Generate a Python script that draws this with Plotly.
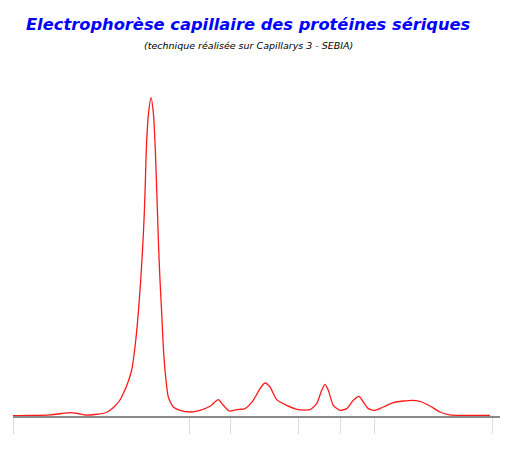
import plotly.graph_objects as go

# mobility (arbitrary units) and signal intensity
mobility = [13, 30, 50, 62, 70, 78, 86, 95, 105, 110, 115, 120, 123, 127, 131.7, 135, 138.3,
            140.7, 142.7, 144.3, 145.4, 146.4, 148.5, 151, 153.4, 155.2, 156.4, 157.5, 158.6, 160, 161.7,
            163.3, 165.3, 168.3, 173.3, 180, 190, 200, 210, 218.3, 223.3, 229.3, 236.7, 245,
            253.3, 260, 265, 270, 276.7, 286.7, 298.3, 310, 316.7, 321.7, 325, 328.3, 333.3,
            340, 346.7, 353.3, 359, 363.3, 368.3, 375, 383.3, 393.3, 403.3, 413.3, 421.7, 430,
            440, 448.3, 456.7, 470, 490]
intensity = [0.3, 0.5, 1.2, 2.5, 3.4, 2.5, 1.0, 1.5, 3.0, 5.7, 10, 16, 22, 31, 46, 69, 103,
             136, 169, 202.7, 235.7, 269, 302.4, 318.4, 302.7, 269, 235.7, 202.7, 169, 135.7, 102.7,
             69, 42.7, 19, 9, 5.7, 4, 5.7, 9.7, 16.4, 10.7, 5, 6.4, 7.4,
             15.7, 27.4, 33, 29, 16.4, 10.7, 6.4, 6.4, 12.4, 25.7, 31.7, 25.7, 10.7,
             5.7, 7.4, 15.7, 19.7, 14, 7.4, 5.7, 9, 13.4, 15, 15.7, 14, 10,
             4, 1.4, 0.7, 0.7, 0.7]
fraction_limits = [13, 189.5, 230, 298.3, 340.3, 374, 492.5]

title_text = "Electrophorèse capillaire des protéines sériques"
subtitle_text = "(technique réalisée sur Capillarys 3 - SEBIA)"

W, H = 505, 442
L, R, T, B = 5, 13, 72, 34
pw, ph = W - L - R, H - T - B


def px(x):
    return (x - L) / pw


def py(y):
    return (H - B - y) / ph


fig = go.Figure()
fig.add_trace(go.Scatter(x=mobility, y=intensity, mode="lines",
                         line=dict(color="#ff1a1a", width=1.3, shape="spline", smoothing=0.6),
                         hoverinfo="skip", showlegend=False))

fig.update_layout(
    width=W, height=H,
    margin=dict(l=L, r=R, t=T, b=B),
    paper_bgcolor="white", plot_bgcolor="white",
    xaxis=dict(range=[13, 500], showgrid=False, zeroline=False, showline=True,
               linecolor="#8a8a8a", linewidth=1.5, ticks="outside", ticklen=16,
               tickcolor="#dcdcdc", tickwidth=1, tickvals=fraction_limits,
               showticklabels=False, fixedrange=True),
    yaxis=dict(range=[0, 336], visible=False, fixedrange=True),
)
fig.add_annotation(text="<b><i>" + title_text + "</i></b>",
                   xref="paper", yref="paper", x=px(240), y=py(17),
                   xanchor="center", yanchor="middle", showarrow=False,
                   font=dict(family="DejaVu Sans", size=16.3, color="#0000ff"))
fig.add_annotation(text="<i>" + subtitle_text + "</i>",
                   xref="paper", yref="paper", x=px(240), y=py(38),
                   xanchor="center", yanchor="middle", showarrow=False,
                   font=dict(family="DejaVu Sans", size=9.5, color="#000000"))

fig.write_html("out.html")
